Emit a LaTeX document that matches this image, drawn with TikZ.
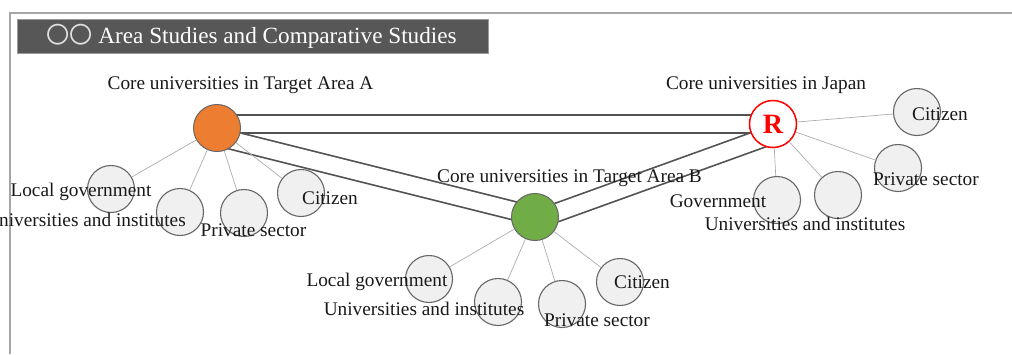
\documentclass[tikz,border=0pt]{standalone}
\usepackage{fontspec}
\setmainfont{Liberation Serif}
\newfontfamily\cjkfont{Noto Sans CJK JP}
\usepackage{tikz}
\usetikzlibrary{calc,backgrounds}
\definecolor{areaorange}{HTML}{ED7D31}
\definecolor{areagreen}{HTML}{70AD47}

\begin{document}
\begin{tikzpicture}[x=1pt, y=-1pt,
		core/.style={circle, draw=black!60, line width=1pt, minimum size=47pt, inner sep=0pt},
		party/.style={circle, draw=black!60, fill=black!6, line width=1.1pt, minimum size=47pt, inner sep=0pt},
		lbl/.style={anchor=base, inner sep=0pt, text=black!90, font=\fontsize{19.3}{21}\selectfont},
		spoke/.style={draw=black!32, line width=0.7pt},
		band/.style={draw=black!68, line width=1.7pt, double=white, double distance=16.6pt}]
		%%%%% START %%%%%
		
		\useasboundingbox (0, 0) rectangle (1012, 354);
		\draw[line width=2pt, color=black!35] (9.5, 354) -- (9.5, 13) -- (1012, 13);
		
		\filldraw[fill=black!66, draw=black!40, line width=1pt] (17, 19) rectangle (488, 53);
		\node[anchor=base west, inner sep=0pt, text=white, font=\fontsize{23.2}{25}\selectfont] (title) at (46, 43.5) {{\cjkfont\color{black!12}〇〇} Area Studies and Comparative Studies};
		
		\node[core, fill=areaorange] (coreA) at (217, 128) {};
		\node[core, fill=areagreen] (coreB) at (535, 217) {};
		\node[core, draw=red, fill=white, line width=1.5pt, text=red, font=\fontsize{28}{28}\bfseries] (coreJ) at (773, 124) {R};
		
		\node[lbl] (labA) at (240.5, 89.3) {Core universities in Target Area A};
		\node[lbl] (labJ) at (766, 89.3) {Core universities in Japan};
		
		% target area A
		\node[party] (aLocal) at (111, 189) {};
		\node[party] (aUniv) at (180, 212) {};
		\node[party] (aPriv) at (244, 213) {};
		\node[party] (aCit) at (301, 193) {};
		\draw[spoke] (coreA) -- (aLocal);
		\draw[spoke] (coreA) -- (aUniv);
		\draw[spoke] (coreA) -- (aPriv);
		\draw[spoke] (coreA) -- (aCit);
		
		% target area B
		\node[party] (bLocal) at (429, 279) {};
		\node[party] (bUniv) at (498, 302) {};
		\node[party] (bPriv) at (562, 304) {};
		\node[party] (bCit) at (620, 282) {};
		\draw[spoke] (coreB) -- (bLocal);
		\draw[spoke] (coreB) -- (bUniv);
		\draw[spoke] (coreB) -- (bPriv);
		\draw[spoke] (coreB) -- (bCit);
		
		% japan
		\node[party] (jGov) at (777, 200) {};
		\node[party] (jUniv) at (838, 195) {};
		\node[party] (jPriv) at (898, 168) {};
		\node[party] (jCit) at (917, 112) {};
		\draw[spoke] (coreJ) -- (jGov);
		\draw[spoke] (coreJ) -- (jUniv);
		\draw[spoke] (coreJ) -- (jPriv);
		\draw[spoke] (coreJ) -- (jCit);
		
		\begin{scope}[on background layer]
			\draw[band] (coreA.center |- coreJ.center) -- (coreJ.center);
			\draw[band] ($(coreA.center)+(-2, 8)$) -- ($(coreB.center)+(0, -1)$);
			\draw[band] ($(coreB.center)+(1, 3)$) -- ($(coreJ.center)+(4, 9)$);
		\end{scope}
		
		\node[lbl] (labB) at (569.5, 182.5) {Core universities in Target Area B};
		
		\node[lbl] (labALocal) at (81, 196.7) {Local government};
		\node[lbl] (labAUniv) at (85.5, 226) {Universities and institutes};
		\node[lbl] (labAPriv) at (253.5, 236) {Private sector};
		\node[lbl] (labACit) at (330, 204) {Citizen};
		
		\node[lbl] (labBLocal) at (377, 286) {Local government};
		\node[lbl] (labBUniv) at (424, 315.7) {Universities and institutes};
		\node[lbl] (labBPriv) at (597, 326) {Private sector};
		\node[lbl] (labBCit) at (642, 288) {Citizen};
		
		\node[lbl] (labJGov) at (718, 207.3) {Government};
		\node[lbl] (labJUniv) at (805, 230) {Universities and institutes};
		\node[lbl] (labJPriv) at (926, 185.7) {Private sector};
		\node[lbl] (labJCit) at (940, 120.7) {Citizen};
		
		%%%%% END %%%%%
	\end{tikzpicture}
\end{document}
